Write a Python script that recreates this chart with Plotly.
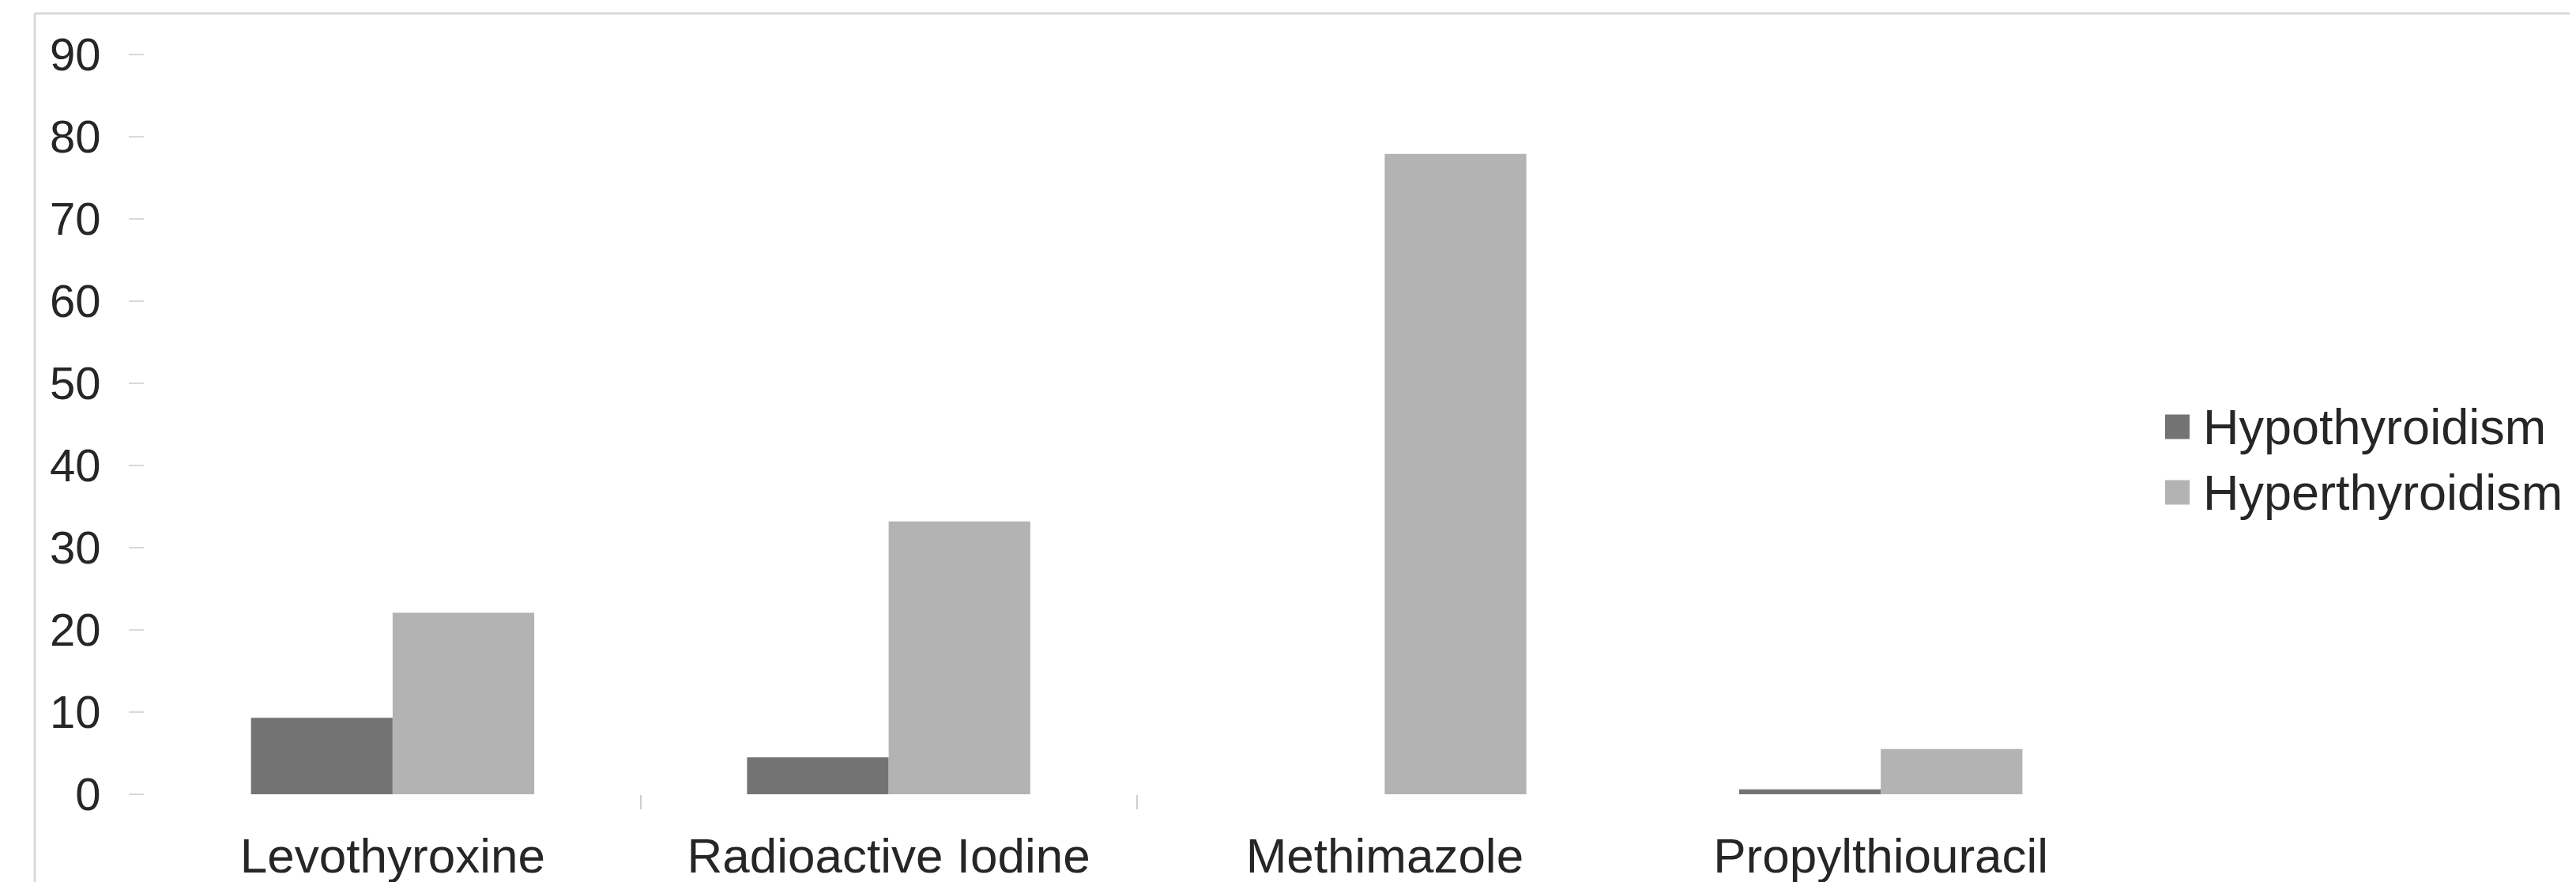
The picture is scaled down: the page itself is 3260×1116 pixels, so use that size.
import plotly.graph_objects as go

categories = ["Levothyroxine", "Radioactive Iodine", "Methimazole", "Propylthiouracil"]
hypothyroidism = [9.3, 4.5, 0, 0.6]
hyperthyroidism = [22.1, 33.2, 77.9, 5.5]
series_names = ["Hypothyroidism", "Hyperthyroidism"]
y_ticks = [0, 10, 20, 30, 40, 50, 60, 70, 80, 90]

dark = "#737373"
light = "#b3b3b3"
text_col = "#262626"
font_family = "Liberation Sans, Arial, sans-serif"

W, H = 3260, 1116
L, R, T, B = 175, 574, 61, 119
pw = W - L - R
ph = H - T - B


def px_x(px):
    return (px - L) / pw


def px_y(py):
    return (H - B - py) / ph


fig = go.Figure()
fig.add_trace(go.Bar(x=categories, y=hypothyroidism, name=series_names[0],
                     marker=dict(color=dark, line=dict(width=0)), showlegend=False))
fig.add_trace(go.Bar(x=categories, y=hyperthyroidism, name=series_names[1],
                     marker=dict(color=light, line=dict(width=0)), showlegend=False))
# helper trace for the boundary tick axis
fig.add_trace(go.Scatter(x=[None], y=[None], xaxis="x2", showlegend=False,
                         hoverinfo="skip", mode="markers"))

shapes = [
    dict(type="line", xref="paper", yref="paper", x0=px_x(36), x1=px_x(36),
         y0=px_y(1200), y1=px_y(9), line=dict(color="#d9d9d9", width=3)),
    dict(type="line", xref="paper", yref="paper", x0=px_x(36), x1=px_x(3400),
         y0=px_y(9), y1=px_y(9), line=dict(color="#d9d9d9", width=3)),
]
annotations = []
leg_colors = [dark, light]
leg_centers = [532, 615]
for name, col, cy in zip(series_names, leg_colors, leg_centers):
    shapes.append(dict(type="rect", xref="paper", yref="paper",
                       x0=px_x(2732), x1=px_x(2763), y0=px_y(cy + 15.5), y1=px_y(cy - 15.5),
                       fillcolor=col, line=dict(width=0)))
    annotations.append(dict(xref="paper", yref="paper", x=px_x(2778), y=px_y(cy),
                            xanchor="left", yanchor="middle", showarrow=False,
                            text=name, font=dict(size=63, color=text_col,
                                                 family=font_family)))

fig.update_layout(
    width=W, height=H,
    margin=dict(l=L, r=R, t=T, b=B, autoexpand=False),
    paper_bgcolor="white", plot_bgcolor="white",
    barmode="group", bargap=0.429, bargroupgap=0,
    font=dict(family=font_family, color=text_col),
    showlegend=False,
    xaxis=dict(type="category", showline=False, showgrid=False, zeroline=False,
               ticks="", tickfont=dict(size=62, color=text_col),
               ticklabelstandoff=36, automargin=False),
    xaxis2=dict(overlaying="x", anchor="y", side="bottom", range=[-0.5, 3.5],
                tickvals=[0.5, 1.5], showticklabels=False, ticks="outside",
                ticklen=18, tickwidth=2, tickcolor="#cfcfcf",
                showline=False, showgrid=False, zeroline=False, automargin=False),
    yaxis=dict(range=[0, 90], tickvals=y_ticks, showline=False, showgrid=False,
               zeroline=False, ticks="outside", ticklen=19, tickwidth=2,
               tickcolor="#d9d9d9", tickfont=dict(size=58, color=text_col),
               ticklabelstandoff=24, automargin=False),
    shapes=shapes,
    annotations=annotations,
)

fig.write_html("out.html")
